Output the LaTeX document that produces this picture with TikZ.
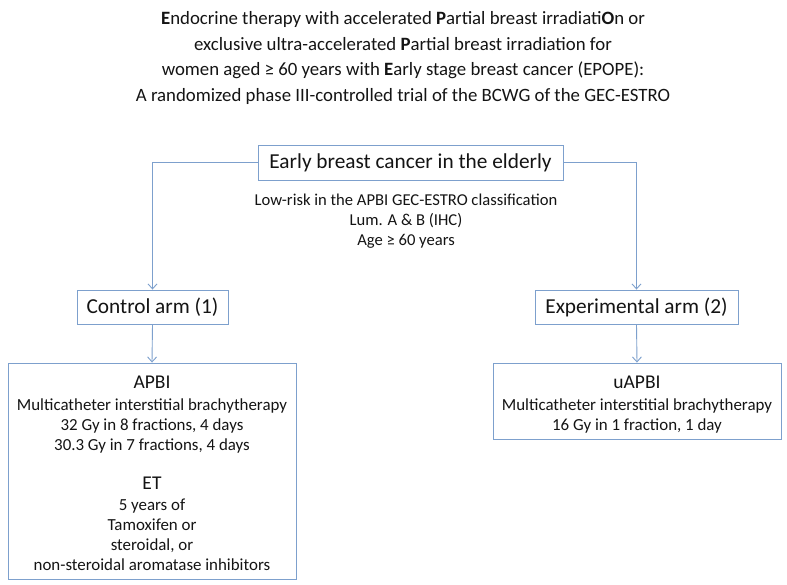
\documentclass[tikz,border=0pt]{standalone}
\usepackage{fontspec}
\setmainfont{Carlito}
\usetikzlibrary{arrows.meta}
\definecolor{lineblue}{RGB}{125,160,205}
\definecolor{txt}{RGB}{20,20,20}
\begin{document}
\begin{tikzpicture}[x=1pt,y=-1pt,
  box/.style={draw=lineblue, line width=0.9pt, inner sep=0pt, fill=white},
  conn/.style={draw=lineblue, line width=0.9pt, -{Straight Barb[length=5pt,width=9pt]}},
  ttl/.style={font=\fontsize{18.8}{25.5}\selectfont, align=center, text=txt, inner sep=0pt},
  big/.style={font=\fontsize{21.3}{24}\selectfont, text=txt, inner sep=0pt},
  mid/.style={font=\fontsize{16.9}{20}\selectfont, text=txt, inner sep=0pt, align=center},
  head/.style={font=\fontsize{19.5}{24}\selectfont, text=txt, inner sep=0pt}]
\useasboundingbox (0,0) rectangle (787,584);
\fill[white] (0,0) rectangle (787,584);
\node[ttl] (title) at (403,58) {\textbf{E}ndocrine therapy with accelerated \textbf{P}artial breast irradiati\textbf{O}n or\\
exclusive ultra-accelerated \textbf{P}artial breast irradiation for\\
women aged ≥ 60 years with \textbf{E}arly stage breast cancer (EPOPE):\\
A randomized phase III-controlled trial of the BCWG of the GEC-ESTRO};

\node[box, minimum width=305pt, minimum height=35pt, big] (top) at (410.5,162.5) {Early breast cancer in the elderly};
\node[mid, font=\fontsize{16.6}{20}\selectfont] (crit) at (406,221) {Low-risk in the APBI GEC-ESTRO classification\\Lum. A \& B (IHC)\\Age ≥ 60 years};

\node[box, minimum width=151pt, minimum height=34pt, big] (ctrl) at (152.5,307) {Control arm (1)};
\node[box, minimum width=203pt, minimum height=34pt, big] (exp) at (636.5,307) {Experimental arm (2)};

\node[box, minimum width=288pt, minimum height=216pt] (apbibox) at (152,471) {};
\node[box, minimum width=288pt, minimum height=76pt] (uapbibox) at (637,401) {};

\node[head] (apbi) at (152,382) {APBI};
\node[mid] (apbitxt) at (152,426) {Multicatheter interstitial brachytherapy\\32 Gy in 8 fractions, 4 days\\30.3 Gy in 7 fractions, 4 days};
\node[head] (et) at (152,483) {ET};
\node[mid] (ettxt) at (152,535) {5 years of\\Tamoxifen or\\steroidal, or\\non-steroidal aromatase inhibitors};

\node[head] (uapbi) at (637,382) {uAPBI};
\node[mid] (uapbitxt) at (637,416) {Multicatheter interstitial brachytherapy\\16 Gy in 1 fraction, 1 day};

\draw[conn] (top.west) -| (ctrl.north);
\draw[conn] (top.east) -| (exp.north);
\draw[conn] (ctrl.south) -- (apbibox.north);
\draw[conn] (exp.south) -- (uapbibox.north);
\end{tikzpicture}
\end{document}
